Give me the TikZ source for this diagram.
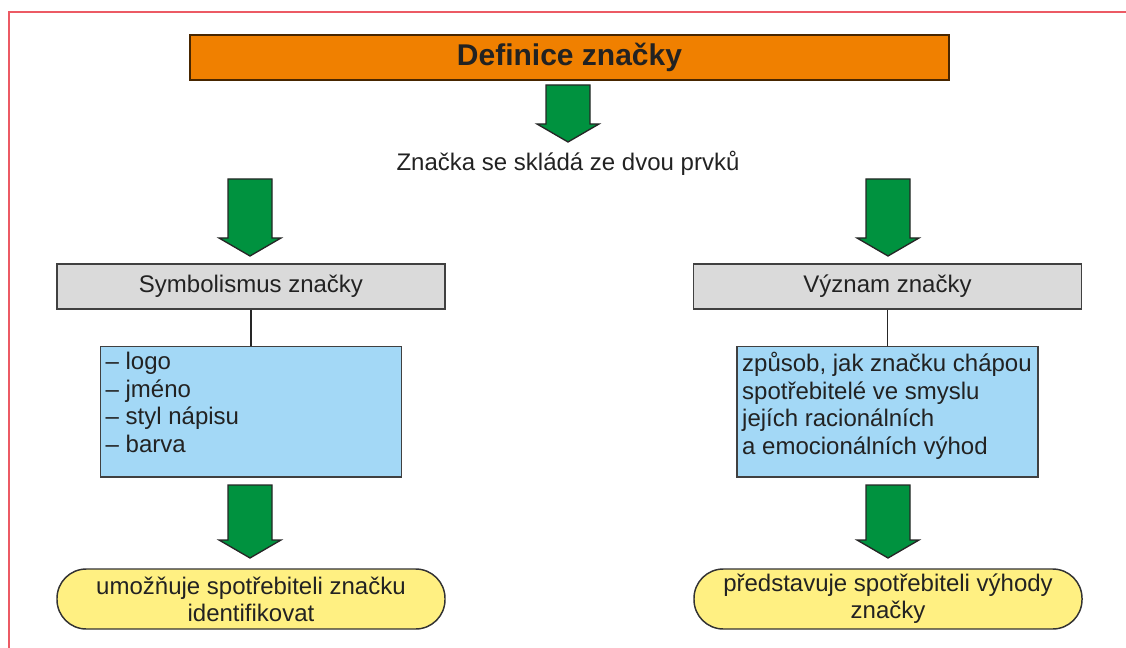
\documentclass[tikz,border=0pt]{standalone}
\usepackage{fontspec}
\setmainfont{Liberation Sans}
\usetikzlibrary{positioning}
\definecolor{titleorange}{RGB}{240,128,0}
\definecolor{arrowgreen}{RGB}{0,146,63}
\definecolor{boxgray}{RGB}{218,218,218}
\definecolor{listblue}{RGB}{163,216,246}
\definecolor{noteyellow}{RGB}{255,240,130}
\definecolor{framered}{RGB}{236,90,100}
\definecolor{inkgray}{RGB}{34,34,34}
\tikzset{
  titlebox/.style={draw=black!70!titleorange, line width=1.1pt, fill=titleorange, minimum width=569pt, minimum height=33.75pt, inner sep=0pt, font=\fontsize{22.5}{25}\selectfont\bfseries, text=inkgray},
  graybox/.style={draw=black!75, line width=1.1pt, fill=boxgray, minimum width=291pt, minimum height=33.75pt, inner sep=0pt, font=\fontsize{18}{20}\selectfont, text=inkgray},
  bluebox/.style={draw=black!75, line width=1.1pt, fill=listblue, inner xsep=4pt, inner ysep=4.5pt, font=\fontsize{18}{20.6}\selectfont, text=inkgray},
  notebox/.style={draw=black!80, line width=1.1pt, fill=noteyellow, minimum width=291pt, minimum height=45pt, rounded corners=22pt, inner sep=0pt, align=center, font=\fontsize{18}{20.4}\selectfont, text=inkgray},
  arrowshape/.style={draw=black!85, line width=1pt, fill=arrowgreen},
  >=latex
}
% block arrow: x, top, tip
\newcommand{\garrow}[3]{%
  \draw[arrowshape] ({#1-22},#2) -- ({#1+22},#2) -- ({#1+22},{#3-18}) -- ({#1+31},{#3-18})
    -- (#1,#3) -- ({#1-31},{#3-18}) -- ({#1-22},{#3-18}) -- cycle;}
\begin{document}
\begin{tikzpicture}[x=0.75pt,y=-0.75pt]
  \useasboundingbox (0,0) rectangle (1126,648);
  % frame
  \draw[framered, line width=1.6pt] (9,648) -- (9,12) -- (1126,12);

  \node[titlebox] (title) at (569.5,57.5) {Definice značky};
  \garrow{568}{85}{142}
  \node[font=\fontsize{18}{20}\selectfont, text=inkgray] (parts) at (568,163) {Značka se skládá ze dvou prvků};

  % left branch
  \garrow{250}{179}{256}
  \node[graybox] (sym) at (251,286.5) {Symbolismus značky};
  \node[bluebox, below=27pt of sym] (symlist)
    {\parbox[c][89pt][t]{218pt}{– logo\\– jméno\\– styl nápisu\\– barva}};
  \draw[black!85, line width=1pt] (sym.south) -- (symlist.north);
  \garrow{250}{485}{558}
  \node[notebox] (symnote) at (251,599) {umožňuje spotřebiteli značku\\identifikovat};

  % right branch
  \garrow{888}{179}{256}
  \node[graybox] (mean) at (887.5,286.5) {Význam značky};
  \node[bluebox, below=27pt of mean] (meanlist)
    {\parbox[c][89pt][t]{218pt}{způsob, jak značku chápou\\spotřebitelé ve smyslu\\jejích racionálních\\a emocionálních výhod}};
  \draw[black!85, line width=1pt] (mean.south) -- (meanlist.north);
  \garrow{888}{485}{558}
  \node[notebox] (meannote) at (888,599) {představuje spotřebiteli výhody\\značky};
\end{tikzpicture}
\end{document}
